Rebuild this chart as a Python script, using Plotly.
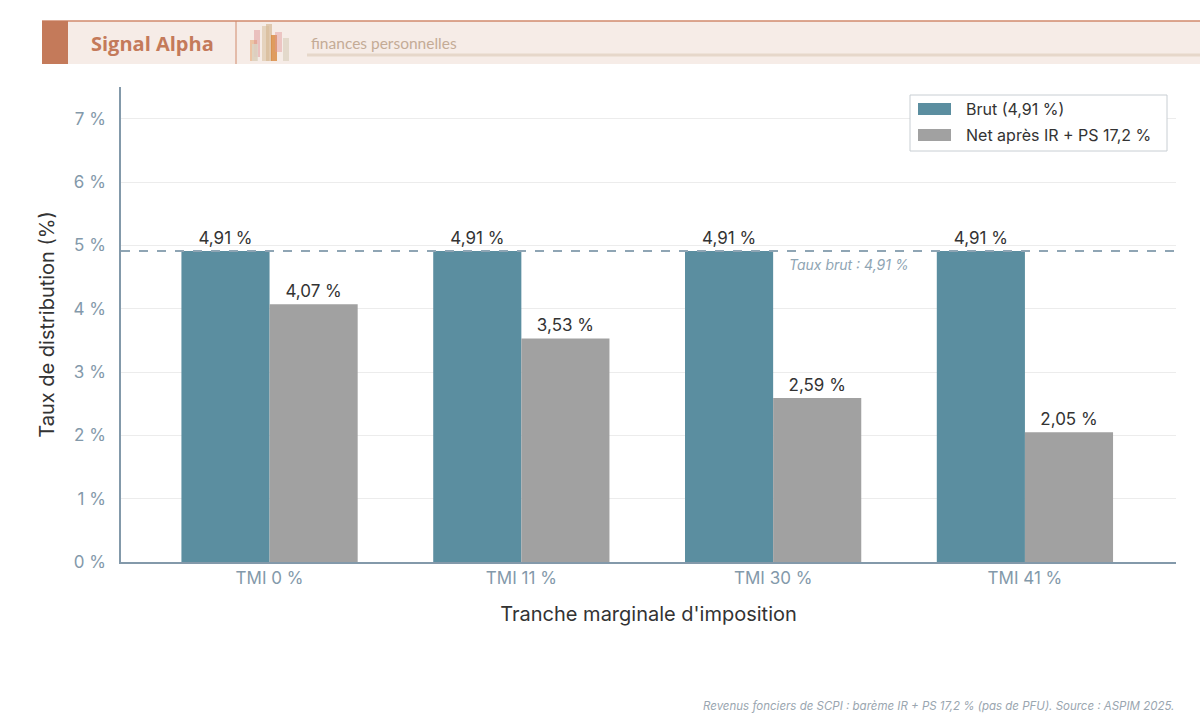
import plotly.graph_objects as go

categories = ["TMI 0 %", "TMI 11 %", "TMI 30 %", "TMI 41 %"]
brut = [4.91, 4.91, 4.91, 4.91]
net = [4.07, 3.53, 2.59, 2.05]
brut_labels = ["4,91 %", "4,91 %", "4,91 %", "4,91 %"]
net_labels = ["4,07 %", "3,53 %", "2,59 %", "2,05 %"]
series_names = ["Brut (4,91 %)", "Net après IR + PS 17,2 %"]
y_ticks = [0, 1, 2, 3, 4, 5, 6, 7]
y_tick_text = ["0 %", "1 %", "2 %", "3 %", "4 %", "5 %", "6 %", "7 %"]
taux_brut = 4.91

W, H = 1200, 721
ML, MR, MT, MB = 121, 24, 87, 159
PW, PH = W - ML - MR, H - MT - MB


def px(x):
    return (x - ML) / PW


def py(y):
    return (H - MB - y) / PH


FONT = "Inter"
BLUE = "#5b8ea0"
GREY = "#a1a1a1"
AXIS = "#8399aa"

fig = go.Figure()
fig.add_trace(go.Bar(
    x=categories, y=brut, name=series_names[0], marker_color=BLUE, marker_line_width=0,
    text=brut_labels, textposition="outside", cliponaxis=False, showlegend=False,
    textfont=dict(size=17, color="#333333", family=FONT),
))
fig.add_trace(go.Bar(
    x=categories, y=net, name=series_names[1], marker_color=GREY, marker_line_width=0,
    text=net_labels, textposition="outside", cliponaxis=False, showlegend=False,
    textfont=dict(size=17, color="#333333", family=FONT),
))

shapes = []
# reference dashed line
shapes.append(dict(type="line", xref="paper", yref="y", x0=0, x1=1, y0=taux_brut, y1=taux_brut,
                   line=dict(color="#8fa5b4", width=2, dash="dash"), layer="above"))

# header band
shapes.append(dict(type="rect", xref="paper", yref="paper", x0=px(42), x1=px(1200), y0=py(64), y1=py(21),
                   fillcolor="#f6ece7", line=dict(width=0), layer="below"))
shapes.append(dict(type="line", xref="paper", yref="paper", x0=px(42), x1=px(1200), y0=py(21), y1=py(21),
                   line=dict(color="#d08a6c", width=1.5)))
shapes.append(dict(type="rect", xref="paper", yref="paper", x0=px(42), x1=px(68), y0=py(64), y1=py(21),
                   fillcolor="#c47a5a", line=dict(width=0)))
shapes.append(dict(type="line", xref="paper", yref="paper", x0=px(236), x1=px(236), y0=py(64), y1=py(21),
                   line=dict(color="#d08a6c", width=1)))
shapes.append(dict(type="rect", xref="paper", yref="paper", x0=px(307), x1=px(1200), y0=py(56.5), y1=py(53.5),
                   fillcolor="#e6d7ca", line=dict(width=0)))
# small icon
icon = [
    (250, 257, 40, 61, "rgba(230,170,120,0.6)"),
    (254, 260, 30, 57, "rgba(220,140,140,0.45)"),
    (252, 258, 44, 61, "rgba(220,215,200,0.8)"),
    (262, 269, 26, 61, "rgba(225,205,180,0.8)"),
    (266, 272, 24, 61, "rgba(215,185,150,0.7)"),
    (271, 277, 35, 61, "rgba(215,130,50,0.75)"),
    (275, 282, 32, 52, "rgba(225,150,150,0.45)"),
    (283, 289, 38, 61, "rgba(225,215,200,0.9)"),
]
for x0, x1, y0, y1, c in icon:
    shapes.append(dict(type="rect", xref="paper", yref="paper", x0=px(x0), x1=px(x1), y0=py(y1), y1=py(y0),
                       fillcolor=c, line=dict(width=0)))

# custom legend
shapes.append(dict(type="rect", xref="paper", yref="paper", x0=px(910), x1=px(1167), y0=py(151), y1=py(95),
                   fillcolor="white", line=dict(color="#c8ced3", width=1)))
legend_rows = [(109, BLUE), (135, GREY)]
annotations = []
for (yy, col), name in zip(legend_rows, series_names):
    shapes.append(dict(type="rect", xref="paper", yref="paper", x0=px(918), x1=px(951), y0=py(yy + 6), y1=py(yy - 6),
                       fillcolor=col, line=dict(width=0)))
    annotations.append(dict(xref="paper", yref="paper", x=px(964), y=py(yy), text=name, showarrow=False,
                            font=dict(family=FONT, size=16, color="#333333"), xanchor="left", yanchor="middle"))

annotations += [
    dict(xref="paper", yref="paper", x=px(152), y=py(43), text="<b>Signal Alpha</b>", showarrow=False,
         font=dict(family="Open Sans", size=20, color="#c47a5a"), xanchor="center", yanchor="middle"),
    dict(xref="paper", yref="paper", x=px(309), y=py(43), text="finances personnelles", showarrow=False,
         font=dict(family="Lato", size=15.5, color="#c4ab96"), xanchor="left", yanchor="middle"),
    dict(xref="paper", yref="paper", x=px(787), y=py(254), text="<i>Taux brut : 4,91 %</i>", showarrow=False,
         font=dict(family=FONT, size=14, color="#8fa5b4"), xanchor="left", yanchor="top"),
    dict(xref="paper", yref="paper", x=px(1176), y=py(706), text="<i>Revenus fonciers de SCPI : barème IR + PS 17,2 % (pas de PFU). Source : ASPIM 2025.</i>",
         showarrow=False, font=dict(family=FONT, size=11.5, color="#9aa6b0"), xanchor="right", yanchor="middle"),
]

fig.update_layout(
    width=W, height=H,
    margin=dict(l=ML, r=MR, t=MT, b=MB),
    paper_bgcolor="white", plot_bgcolor="white",
    barmode="group", bargap=0.3, bargroupgap=0,
    font=dict(family=FONT, color="#333333"),
    shapes=shapes, annotations=annotations,
    showlegend=False,
    xaxis=dict(range=[-0.59, 3.6], showline=True, linecolor=AXIS, linewidth=1.5,
               tickfont=dict(size=17, color=AXIS, family=FONT), ticks="",
               title=dict(text="Tranche marginale d'imposition", font=dict(size=20, color="#333333", family=FONT), standoff=20)),
    yaxis=dict(range=[0, 7.5], tickvals=y_ticks, ticktext=y_tick_text, showline=True, linecolor=AXIS, linewidth=1.5,
               gridcolor="#ececec", zeroline=False, ticks="", ticklabelstandoff=10,
               tickfont=dict(size=17, color=AXIS, family=FONT),
               title=dict(text="Taux de distribution (%)", font=dict(size=20, color="#333333", family=FONT), standoff=13)),
)

fig.write_html("out.html")
